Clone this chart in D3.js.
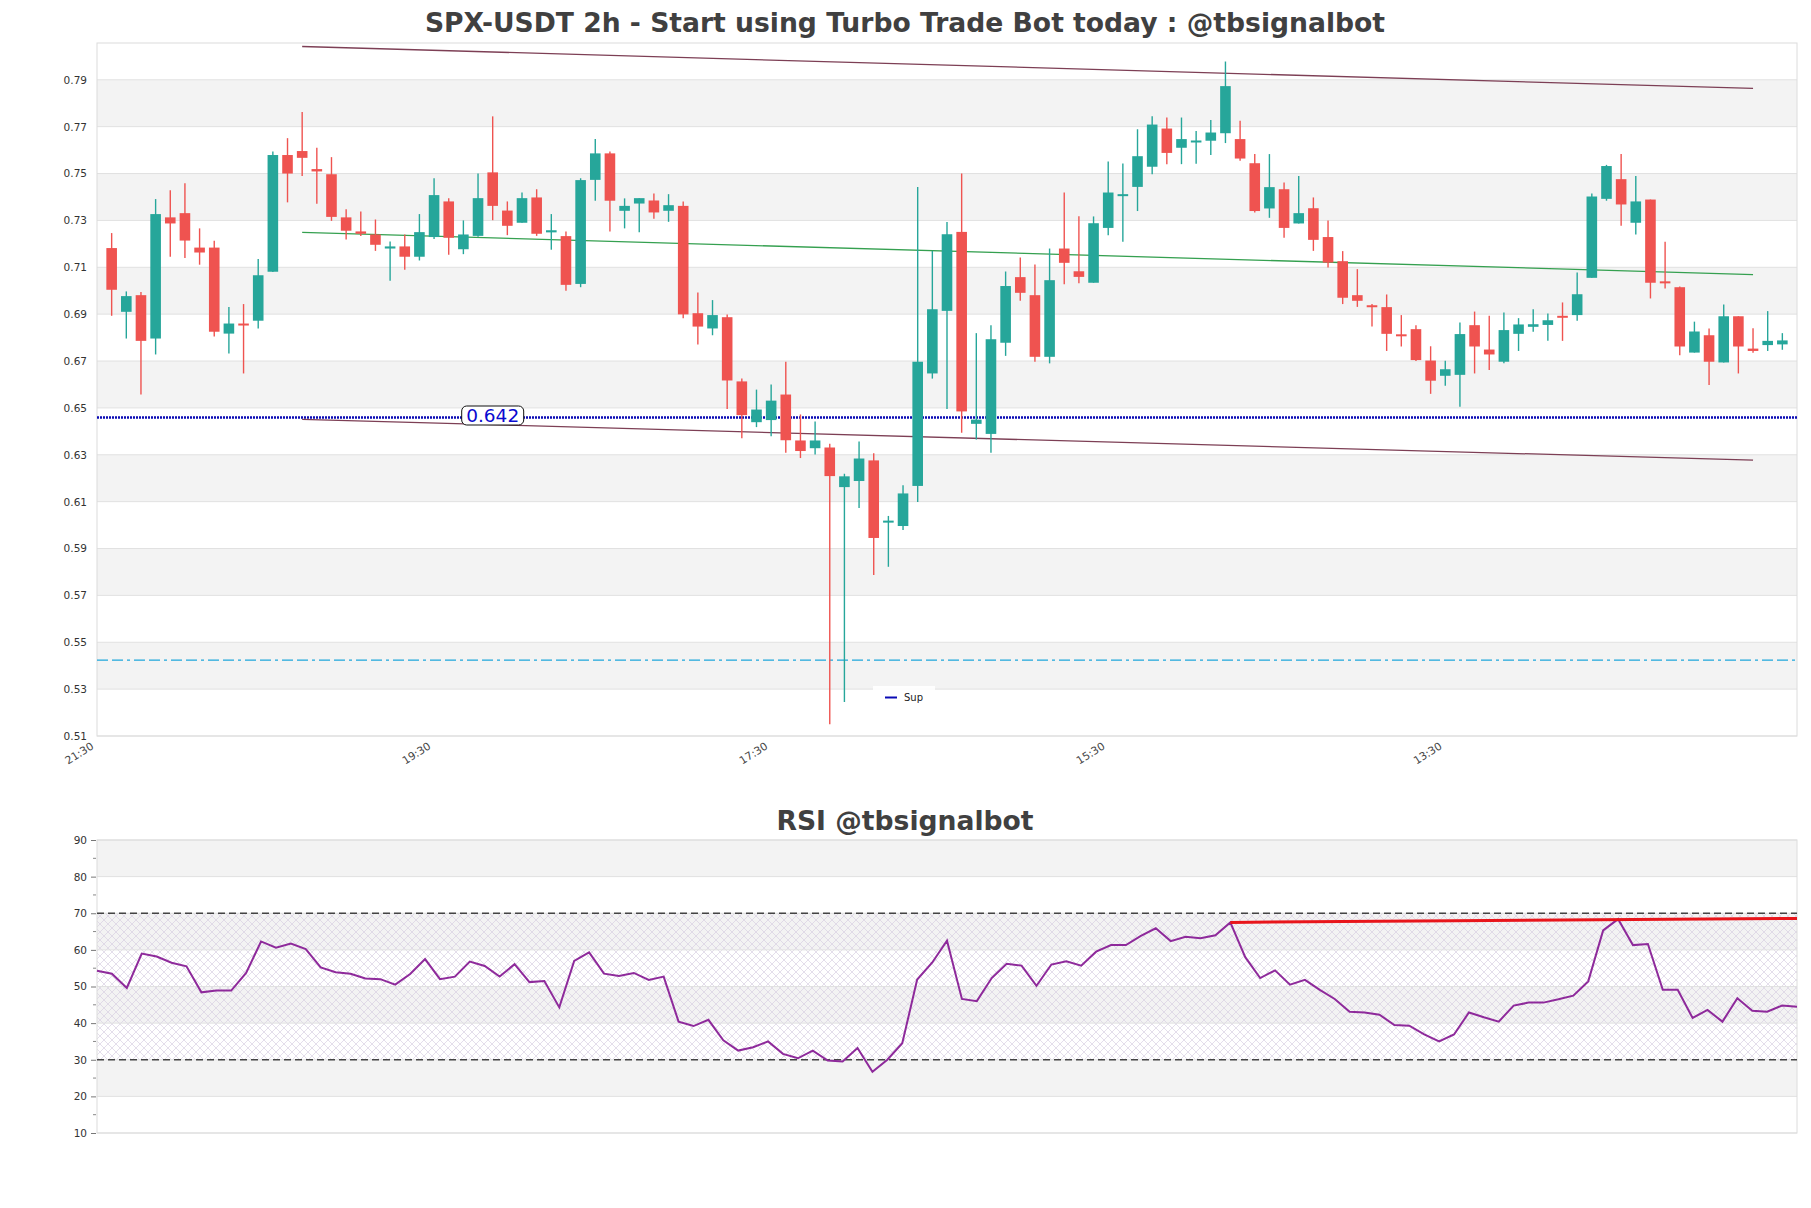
<!DOCTYPE html>
<html><head><meta charset="utf-8">
<script src="https://cdn.jsdelivr.net/npm/d3@7"></script>
<style>body{margin:0;background:#fff;} svg{display:block;font-family:"DejaVu Sans",sans-serif;}</style>
</head><body><svg id="chart" width="1811" height="1208"></svg>
<script>
// ---------- DATA ----------
const opens  = [0.7182,0.6910,0.6981,0.6796,0.7313,0.7331,0.7184,0.7184,0.6817,0.6860,0.6872,0.7081,0.7579,0.7596,0.7519,0.7497,0.7313,0.7253,0.7240,0.7180,0.7189,0.7145,0.7229,0.7381,0.7177,0.7234,0.7505,0.7342,0.7290,0.7398,0.7249,0.7233,0.7029,0.7473,0.7586,0.7341,0.7372,0.7385,0.7341,0.7362,0.6904,0.6839,0.6887,0.6613,0.6439,0.6448,0.6557,0.6361,0.6328,0.6331,0.6162,0.6188,0.6276,0.6013,0.5996,0.6167,0.6647,0.6914,0.7251,0.6432,0.6389,0.6778,0.7058,0.6981,0.6718,0.7180,0.7083,0.7034,0.7268,0.7408,0.7443,0.7529,0.7692,0.7610,0.7637,0.7640,0.7672,0.7647,0.7544,0.7351,0.7433,0.7287,0.7352,0.7229,0.7126,0.6981,0.6938,0.6930,0.6814,0.6836,0.6702,0.6637,0.6641,0.6853,0.6749,0.6697,0.6816,0.6846,0.6854,0.6893,0.6896,0.7055,0.7392,0.7476,0.7290,0.7389,0.7040,0.7015,0.6736,0.6810,0.6694,0.6891,0.6753,0.6768,0.6771];
const highs  = [0.7246,0.6997,0.6995,0.7391,0.7429,0.7459,0.7266,0.7213,0.6930,0.6943,0.7135,0.7594,0.7651,0.7763,0.7610,0.7570,0.7348,0.7338,0.7304,0.7210,0.7240,0.7327,0.7480,0.7395,0.7300,0.7500,0.7744,0.7381,0.7419,0.7433,0.7327,0.7253,0.7480,0.7647,0.7594,0.7394,0.7395,0.7415,0.7412,0.7381,0.6992,0.6960,0.6899,0.6625,0.6578,0.6600,0.6697,0.6472,0.6442,0.6347,0.6219,0.6357,0.6306,0.6039,0.6170,0.7443,0.7170,0.7293,0.7500,0.6819,0.6853,0.7082,0.7142,0.7112,0.7180,0.7419,0.7318,0.7317,0.7551,0.7543,0.7689,0.7744,0.7739,0.7739,0.7681,0.7728,0.7978,0.7725,0.7583,0.7583,0.7462,0.7490,0.7398,0.7300,0.7169,0.7092,0.6943,0.6984,0.6896,0.6853,0.6763,0.6701,0.6864,0.6911,0.6893,0.6907,0.6883,0.6921,0.6903,0.6950,0.7078,0.7415,0.7537,0.7583,0.7490,0.7389,0.7209,0.7018,0.6868,0.6839,0.6941,0.6891,0.6840,0.6913,0.6819];
const lows   = [0.6893,0.6796,0.6557,0.6728,0.7145,0.7140,0.7111,0.6805,0.6732,0.6647,0.6839,0.7080,0.7377,0.7490,0.7371,0.7298,0.7219,0.7234,0.7170,0.7042,0.7089,0.7129,0.7221,0.7153,0.7156,0.7230,0.7301,0.7237,0.7290,0.7234,0.7175,0.7000,0.7015,0.7384,0.7253,0.7266,0.7249,0.7307,0.7294,0.6882,0.6771,0.6810,0.6495,0.6370,0.6418,0.6379,0.6309,0.6286,0.6301,0.5150,0.5245,0.6073,0.5787,0.5822,0.5979,0.6099,0.6625,0.6495,0.6394,0.6365,0.6309,0.6722,0.6957,0.6697,0.6690,0.7028,0.7032,0.7034,0.7237,0.7209,0.7340,0.7497,0.7540,0.7540,0.7542,0.7579,0.7630,0.7555,0.7334,0.7311,0.7226,0.7287,0.7170,0.7099,0.6943,0.6931,0.6847,0.6743,0.6762,0.6700,0.6560,0.6594,0.6505,0.6647,0.6662,0.6691,0.6743,0.6825,0.6786,0.6786,0.6872,0.7055,0.7384,0.7277,0.7240,0.6967,0.7009,0.6725,0.6736,0.6598,0.6694,0.6647,0.6735,0.6743,0.6748];
const closes = [0.7004,0.6977,0.6786,0.7327,0.7287,0.7214,0.7163,0.6825,0.6860,0.6853,0.7066,0.7579,0.7500,0.7567,0.7509,0.7315,0.7256,0.7243,0.7196,0.7189,0.7145,0.7250,0.7408,0.7226,0.7240,0.7395,0.7362,0.7277,0.7395,0.7243,0.7258,0.7025,0.7472,0.7586,0.7384,0.7362,0.7395,0.7334,0.7365,0.6899,0.6847,0.6896,0.6617,0.6469,0.6493,0.6531,0.6362,0.6316,0.6361,0.6209,0.6208,0.6284,0.5945,0.6019,0.6135,0.6697,0.6921,0.7241,0.6485,0.6450,0.6793,0.7020,0.6991,0.6718,0.7045,0.7119,0.7059,0.7288,0.7419,0.7412,0.7574,0.7709,0.7588,0.7647,0.7641,0.7675,0.7873,0.7564,0.7340,0.7442,0.7268,0.7331,0.7217,0.7120,0.6970,0.6957,0.6931,0.6816,0.6808,0.6704,0.6616,0.6665,0.6815,0.6762,0.6728,0.6832,0.6856,0.6857,0.6874,0.6890,0.6985,0.7402,0.7532,0.7368,0.7381,0.7034,0.7036,0.6762,0.6826,0.6697,0.6891,0.6762,0.6743,0.6786,0.6788];
const rsiValues = [54.3,53.5,49.6,59.0,58.2,56.5,55.5,48.4,48.9,48.9,53.7,62.3,60.6,61.7,60.2,55.2,53.9,53.5,52.2,52.0,50.5,53.4,57.5,52.0,52.7,56.8,55.6,52.7,56.1,51.2,51.5,44.3,57.0,59.3,53.5,52.9,53.7,51.8,52.7,40.4,39.2,40.9,35.3,32.5,33.4,35.0,31.6,30.4,32.5,29.8,29.5,33.2,26.7,30.0,34.5,51.9,56.5,62.5,46.6,46.0,52.3,56.2,55.7,50.2,56.0,56.9,55.7,59.5,61.3,61.3,63.8,65.9,62.4,63.6,63.2,64.0,67.5,58.0,52.3,54.4,50.5,51.8,49.1,46.6,43.1,42.9,42.3,39.5,39.3,36.9,35.0,36.9,42.9,41.6,40.4,44.8,45.6,45.6,46.5,47.5,51.4,65.3,68.4,61.3,61.6,49.1,49.1,41.4,43.6,40.4,46.8,43.4,43.1,44.8,44.5];
const xTickIndex  = [-1, 22, 45, 68, 91];
const xTickLabels = ["21:30","19:30","17:30","15:30","13:30"];
const priceTicks  = [0.51,0.53,0.55,0.57,0.59,0.61,0.63,0.65,0.67,0.69,0.71,0.73,0.75,0.77,0.79];
const rsiTicks    = [10,20,30,40,50,60,70,80,90];
const rsiMinorTicks = [15,25,35,45,55,65,75,85];
const upperChannel = [[13,0.8042],[112,0.7863]];
const lowerChannel = [[13,0.6451],[112,0.6277]];
const midTrend     = [[13,0.7249],[112,0.7069]];
const supLevel = 0.6459, supLabel = "0.642", supLabelIndex = 26;
const dashLevel = 0.5424;
const rsiTrend = [[76,67.5],[114,68.6]];
const rsiLevels = [30,70];
const titleMain = "SPX-USDT 2h - Start using Turbo Trade Bot today : @tbsignalbot";
const titleRsi = "RSI @tbsignalbot";
const legendLabel = "Sup";

// ---------- LAYOUT ----------
const svg = d3.select("#chart");
const L = 97, R = 1797, T = 43, B = 736;
const RT = 840, RB = 1133;
const x = d3.scaleLinear().domain([-1, 115]).range([L, R]);
const y = d3.scaleLinear().domain([0.51, 0.8057]).range([B, T]);
const xr = d3.scaleLinear().domain([0, 114]).range([L, R]);
const yr = d3.scaleLinear().domain([10, 90]).range([RB, RT]);
const candles = d3.range(opens.length).map(i => ({i, o: opens[i], h: highs[i], l: lows[i], c: closes[i]}));
const UP = "#26a69a", DN = "#ef5350";

const defs = svg.append("defs");
const pat = defs.append("pattern").attr("id","hatch").attr("width",8).attr("height",8).attr("patternUnits","userSpaceOnUse");
pat.append("path").attr("d","M0,0L8,8M8,0L0,8M-2,6L2,10M6,-2L10,2M-2,2L2,-2M6,10L10,6").attr("stroke","#d9d0e2").attr("stroke-width",0.7).attr("fill","none");
defs.append("clipPath").attr("id","clipMain").append("rect").attr("x",L).attr("y",T).attr("width",R-L).attr("height",B-T);

// titles
svg.append("text").attr("x", 905).attr("y", 32).attr("text-anchor","middle")
  .attr("font-size", 26.6).attr("font-weight","bold").attr("fill","#404040").text(titleMain);
svg.append("text").attr("x", 905).attr("y", 830).attr("text-anchor","middle")
  .attr("font-size", 26.6).attr("font-weight","bold").attr("fill","#404040").text(titleRsi);

// ---------- MAIN PANEL ----------
const main = svg.append("g");
for (let k = 0; k < priceTicks.length - 1; k++) {
  if (k % 2 === 1) main.append("rect").attr("x", L).attr("width", R-L)
    .attr("y", y(priceTicks[k+1])).attr("height", y(priceTicks[k]) - y(priceTicks[k+1])).attr("fill","#f3f3f3");
}
main.selectAll("line.grid").data(priceTicks).join("line").attr("class","grid")
  .attr("x1",L).attr("x2",R).attr("y1",d=>y(d)).attr("y2",d=>y(d)).attr("stroke","#e1e1e1").attr("stroke-width",1);
main.append("rect").attr("x",L).attr("y",T).attr("width",R-L).attr("height",B-T)
  .attr("fill","none").attr("stroke","#dcdcdc").attr("stroke-width",1);

// y axis
const yAxis = d3.axisLeft(y).tickValues(priceTicks).tickFormat(d3.format(".2f")).tickSize(0).tickPadding(10);
const yg = main.append("g").attr("transform",`translate(${L},0)`).call(yAxis);
yg.select(".domain").remove();
yg.selectAll("text").attr("font-size",10.5).attr("fill","#333").attr("font-family","DejaVu Sans");

// x axis
const xAxis = d3.axisBottom(x).tickValues(xTickIndex).tickFormat((d,i)=>xTickLabels[i]).tickSize(0);
const xg = main.append("g").attr("transform",`translate(0,${B})`).call(xAxis);
xg.select(".domain").remove();
xg.selectAll("text").attr("font-size",10.8).attr("fill","#444").attr("font-family","DejaVu Sans")
  .attr("text-anchor","end").attr("y",0).attr("dy","0.35em").attr("dx",0)
  .attr("transform","translate(-5,9) rotate(-32)");

const plot = main.append("g").attr("clip-path","url(#clipMain)");
plot.append("line").attr("x1",L).attr("x2",R).attr("y1",y(dashLevel)).attr("y2",y(dashLevel))
  .attr("stroke","#1ea7dc").attr("stroke-width",1.3).attr("stroke-dasharray","11,4,11,4,3,4");
plot.append("line").attr("x1",L).attr("x2",R).attr("y1",y(supLevel)).attr("y2",y(supLevel))
  .attr("stroke","#0a0ab4").attr("stroke-width",2.6).attr("stroke-dasharray","2,1");

const tl = d3.line().x(d=>x(d[0])).y(d=>y(d[1]));
plot.append("path").attr("d",tl(upperChannel)).attr("stroke","#7d3f55").attr("stroke-width",1.3).attr("fill","none");
plot.append("path").attr("d",tl(lowerChannel)).attr("stroke","#7d3f55").attr("stroke-width",1.3).attr("fill","none");
plot.append("path").attr("d",tl(midTrend)).attr("stroke","#35a050").attr("stroke-width",1.3).attr("fill","none");

// candles
const cg = plot.append("g");
const bw = 10.6;
cg.selectAll("line.wick").data(candles).join("line").attr("class","wick")
  .attr("x1",d=>x(d.i)).attr("x2",d=>x(d.i)).attr("y1",d=>y(d.h)).attr("y2",d=>y(d.l))
  .attr("stroke",d=>d.c>=d.o?UP:DN).attr("stroke-width",1.4);
cg.selectAll("rect.body").data(candles).join("rect").attr("class","body")
  .attr("x",d=>x(d.i)-bw/2).attr("width",bw)
  .attr("y",d=>y(Math.max(d.o,d.c)))
  .attr("height",d=>Math.max(2, Math.abs(y(d.o)-y(d.c))))
  .attr("fill",d=>d.c>=d.o?UP:DN);

// support label
const lx = x(supLabelIndex), ly = y(supLevel) - 2;
main.append("rect").attr("x",lx-31).attr("y",ly-9.5).attr("width",62).attr("height",19).attr("rx",5)
  .attr("fill","#fff").attr("stroke","#111").attr("stroke-width",1);
main.append("text").attr("x",lx).attr("y",ly+6.5).attr("text-anchor","middle").attr("font-size",18.5)
  .attr("fill","#0a0ad0").text(supLabel);

// legend
const lg = main.append("g");
lg.append("rect").attr("x",873).attr("y",686).attr("width",62).attr("height",22).attr("fill","#fff").attr("opacity",0.9);
lg.append("line").attr("x1",885).attr("x2",897).attr("y1",697.5).attr("y2",697.5).attr("stroke","#0a0ab4").attr("stroke-width",2);
lg.append("text").attr("x",904).attr("y",701).attr("font-size",10).attr("fill","#222").text(legendLabel);

// ---------- RSI PANEL ----------
const rp = svg.append("g");
for (let k = 0; k < rsiTicks.length - 1; k++) {
  if (k % 2 === 1) rp.append("rect").attr("x",L).attr("width",R-L)
    .attr("y",yr(rsiTicks[k+1])).attr("height",yr(rsiTicks[k])-yr(rsiTicks[k+1])).attr("fill","#f3f3f3");
}
rp.append("rect").attr("x",L).attr("width",R-L).attr("y",yr(70)).attr("height",yr(30)-yr(70)).attr("fill","url(#hatch)");
rp.selectAll("line.grid").data(rsiTicks).join("line").attr("class","grid")
  .attr("x1",L).attr("x2",R).attr("y1",d=>yr(d)).attr("y2",d=>yr(d)).attr("stroke","#e1e1e1");
rp.append("rect").attr("x",L).attr("y",RT).attr("width",R-L).attr("height",RB-RT)
  .attr("fill","none").attr("stroke","#dcdcdc");
const ryAxis = d3.axisLeft(yr).tickValues(rsiTicks).tickSize(5).tickPadding(4);
const ryg = rp.append("g").attr("transform",`translate(${L-1},0)`).call(ryAxis);
ryg.select(".domain").remove();
ryg.selectAll("line").attr("stroke","#777");
ryg.selectAll("text").attr("font-size",10.5).attr("fill","#333").attr("font-family","DejaVu Sans");
rp.selectAll("line.minor").data(rsiMinorTicks).join("line").attr("class","minor")
  .attr("x1",L-4).attr("x2",L-1).attr("y1",d=>yr(d)).attr("y2",d=>yr(d)).attr("stroke","#888");
rp.selectAll("line.lvl").data(rsiLevels).join("line").attr("class","lvl")
  .attr("x1",L).attr("x2",R).attr("y1",d=>yr(d)).attr("y2",d=>yr(d))
  .attr("stroke","#444").attr("stroke-width",1.3).attr("stroke-dasharray","7,4");
rp.append("path").datum(rsiValues).attr("d", d3.line().x((d,i)=>xr(i)).y(d=>yr(d)))
  .attr("fill","none").attr("stroke","#8e2a9b").attr("stroke-width",2);
rp.append("path").datum(rsiTrend).attr("d", d3.line().x(d=>xr(d[0])).y(d=>yr(d[1])))
  .attr("fill","none").attr("stroke","#e8151b").attr("stroke-width",3);
</script></body></html>
